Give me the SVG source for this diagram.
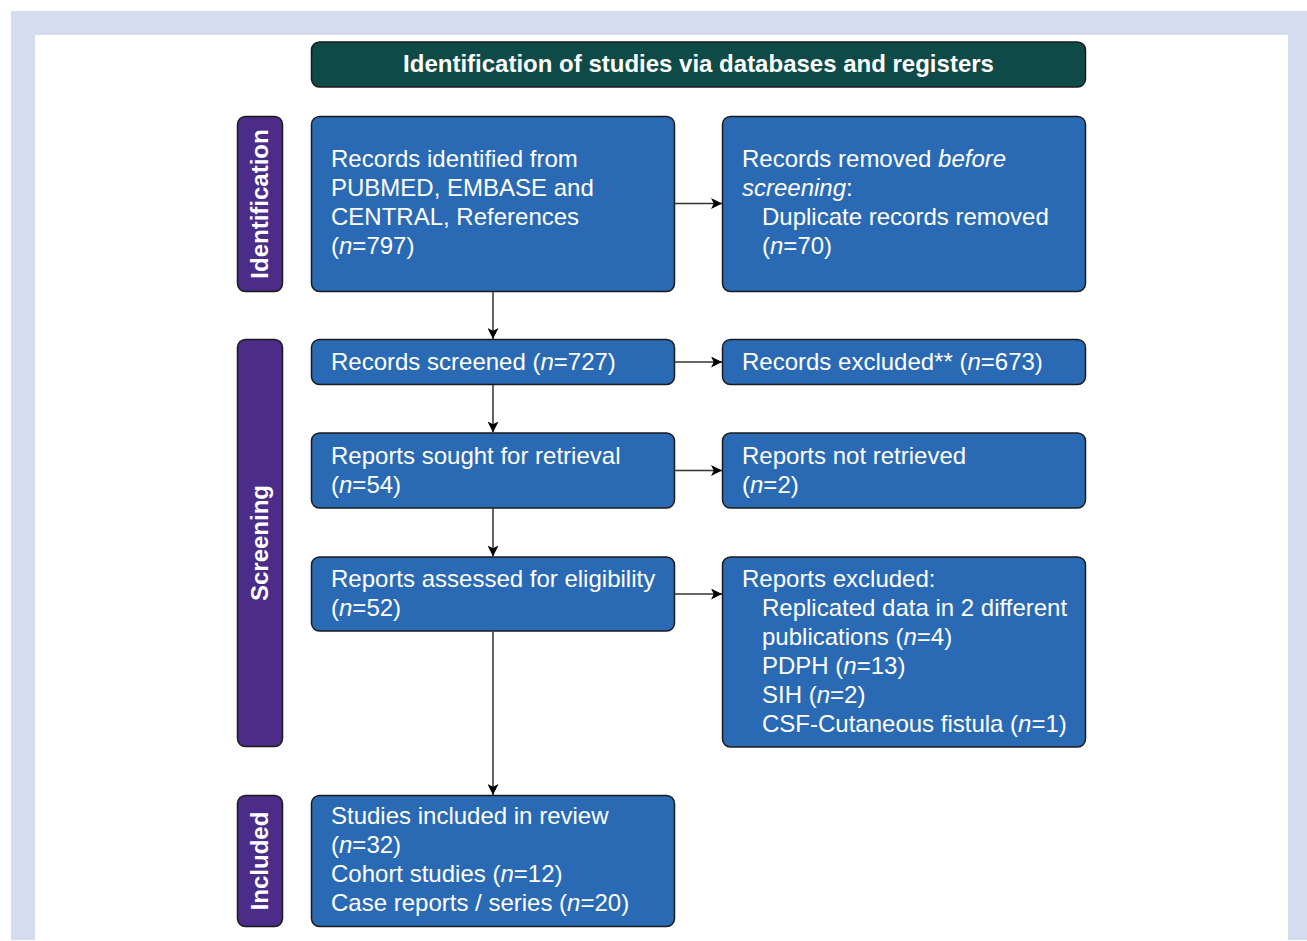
<svg xmlns="http://www.w3.org/2000/svg" width="1307" height="941" viewBox="0 0 1307 941">
<style>
.box{fill:#2a6ab4;stroke:#1b1b1b;stroke-width:1.5}
.side{fill:#4b2c89;stroke:#1b1b1b;stroke-width:1.5}
.title{fill:#0e4a48;stroke:#1b1b1b;stroke-width:1.5}
.t{font-family:"Liberation Sans",Arial,sans-serif;font-size:24px;fill:#ffffff}
.b{font-family:"Liberation Sans",Arial,sans-serif;font-size:24px;font-weight:bold;fill:#ffffff}
.i{font-style:italic}
.c{stroke:#333333;stroke-width:1.5;fill:none;marker-end:url(#ah)}
</style>
<defs>
<marker id="ah" viewBox="0 0 10 10" refX="10" refY="5" markerWidth="11" markerHeight="11" markerUnits="userSpaceOnUse" orient="auto">
<path d="M0,0 L10,5 L0,10 L2.5,5 Z" fill="#000000"/>
</marker>
</defs>
<rect x="0" y="0" width="1307" height="941" fill="#ffffff"/>
<rect x="11" y="11" width="1296" height="929" fill="#d4ddef"/>
<rect x="35" y="35" width="1253" height="906" fill="#ffffff"/>

<g id="title">
<rect class="title" x="311.5" y="42" width="774" height="45" rx="8"/>
<text class="b" x="698.5" y="72" text-anchor="middle">Identification of studies via databases and registers</text>
</g>

<g id="side-identification">
<rect class="side" x="237.5" y="116.5" width="45" height="175" rx="8"/>
<text class="b" transform="translate(267.5,204) rotate(-90)" text-anchor="middle">Identification</text>
</g>
<g id="side-screening">
<rect class="side" x="237.5" y="339.5" width="45" height="407" rx="8"/>
<text class="b" transform="translate(267.5,543) rotate(-90)" text-anchor="middle">Screening</text>
</g>
<g id="side-included">
<rect class="side" x="237.5" y="795.5" width="45" height="131" rx="8"/>
<text class="b" transform="translate(267.5,861) rotate(-90)" text-anchor="middle">Included</text>
</g>

<g id="identified">
<rect class="box" x="311.5" y="116.5" width="363" height="175" rx="8"/>
<text class="t" x="331" y="167">Records identified from</text>
<text class="t" x="331" y="196">PUBMED, EMBASE and</text>
<text class="t" x="331" y="225">CENTRAL, References</text>
<text class="t" x="331" y="254">(<tspan class="i">n</tspan>=797)</text>
</g>
<g id="removed">
<rect class="box" x="722.5" y="116.5" width="363" height="175" rx="8"/>
<text class="t" x="742" y="167">Records removed <tspan class="i">before</tspan></text>
<text class="t" x="742" y="196"><tspan class="i">screening</tspan>:</text>
<text class="t" x="762" y="225">Duplicate records removed</text>
<text class="t" x="762" y="254">(<tspan class="i">n</tspan>=70)</text>
</g>
<g id="screened">
<rect class="box" x="311.5" y="339.5" width="363" height="45" rx="8"/>
<text class="t" x="331" y="370">Records screened (<tspan class="i">n</tspan>=727)</text>
</g>
<g id="excluded1">
<rect class="box" x="722.5" y="339.5" width="363" height="45" rx="8"/>
<text class="t" x="742" y="370">Records excluded** (<tspan class="i">n</tspan>=673)</text>
</g>
<g id="sought">
<rect class="box" x="311.5" y="433" width="363" height="75" rx="8"/>
<text class="t" x="331" y="464">Reports sought for retrieval</text>
<text class="t" x="331" y="493">(<tspan class="i">n</tspan>=54)</text>
</g>
<g id="notretrieved">
<rect class="box" x="722.5" y="433" width="363" height="75" rx="8"/>
<text class="t" x="742" y="464">Reports not retrieved</text>
<text class="t" x="742" y="493">(<tspan class="i">n</tspan>=2)</text>
</g>
<g id="assessed">
<rect class="box" x="311.5" y="557" width="363" height="74" rx="8"/>
<text class="t" x="331" y="587">Reports assessed for eligibility</text>
<text class="t" x="331" y="616">(<tspan class="i">n</tspan>=52)</text>
</g>
<g id="excluded2">
<rect class="box" x="722.5" y="557" width="363" height="190" rx="8"/>
<text class="t" x="742" y="587">Reports excluded:</text>
<text class="t" x="762" y="616">Replicated data in 2 different</text>
<text class="t" x="762" y="645">publications (<tspan class="i">n</tspan>=4)</text>
<text class="t" x="762" y="674">PDPH (<tspan class="i">n</tspan>=13)</text>
<text class="t" x="762" y="703">SIH (<tspan class="i">n</tspan>=2)</text>
<text class="t" x="762" y="732">CSF-Cutaneous fistula (<tspan class="i">n</tspan>=1)</text>
</g>
<g id="included">
<rect class="box" x="311.5" y="795.5" width="363" height="131" rx="8"/>
<text class="t" x="331" y="824">Studies included in review</text>
<text class="t" x="331" y="853">(<tspan class="i">n</tspan>=32)</text>
<text class="t" x="331" y="882">Cohort studies (<tspan class="i">n</tspan>=12)</text>
<text class="t" x="331" y="911">Case reports / series (<tspan class="i">n</tspan>=20)</text>
</g>

<g id="connectors">
<line class="c" x1="493" y1="292" x2="493" y2="339"/>
<line class="c" x1="493" y1="385" x2="493" y2="432.5"/>
<line class="c" x1="493" y1="508.5" x2="493" y2="556.5"/>
<line class="c" x1="493" y1="631.5" x2="493" y2="795"/>
<line class="c" x1="675" y1="203.5" x2="722" y2="203.5"/>
<line class="c" x1="675" y1="362" x2="722" y2="362"/>
<line class="c" x1="675" y1="470.5" x2="722" y2="470.5"/>
<line class="c" x1="675" y1="594" x2="722" y2="594"/>
</g>
</svg>
